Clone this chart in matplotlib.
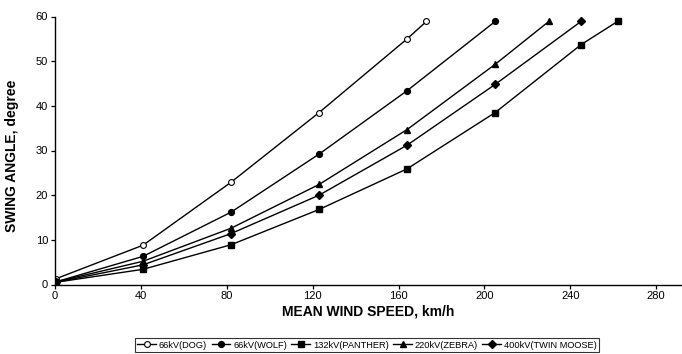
import matplotlib
matplotlib.use("Agg")
import matplotlib.pyplot as plt

plt.rcParams['font.family'] = ['Liberation Sans', 'DejaVu Sans']

# valeurs
x_dog = [0.5, 41, 82, 123, 164, 173]
y_dog = [1.3, 8.8, 22.9, 38.5, 55.0, 58.9]

x_wolf = [0.5, 41, 82, 123, 164, 205]
y_wolf = [0.6, 6.3, 16.2, 29.2, 43.4, 58.9]

x_panther = [0.5, 41, 82, 123, 164, 205, 245, 262]
y_panther = [0.5, 3.4, 8.9, 16.8, 25.9, 38.5, 53.7, 58.9]

x_zebra = [0.5, 41, 82, 123, 164, 205, 230]
y_zebra = [0.6, 5.2, 12.6, 22.4, 34.7, 49.3, 58.9]

x_moose = [0.5, 41, 82, 123, 164, 205, 245]
y_moose = [0.5, 4.4, 11.4, 20.0, 31.2, 44.8, 58.9]

labels = ['66kV(DOG)', '66kV(WOLF)', '132kV(PANTHER)', '220kV(ZEBRA)', '400kV(TWIN MOOSE)']
x_ticks = [0, 40, 80, 120, 160, 200, 240, 280]
y_ticks = [0, 10, 20, 30, 40, 50, 60]

fig = plt.figure(figsize=(6.82, 3.54), dpi=100)
ax = fig.add_axes([55 / 682, 1 - 284.5 / 354, 627 / 682, 268 / 354])

lw = 1.0
ax.plot(x_dog, y_dog, color='black', lw=lw, marker='o', ms=4.2,
        mfc='white', mec='black', mew=0.8, label=labels[0])
ax.plot(x_wolf, y_wolf, color='black', lw=lw, marker='o', ms=4.2,
        mfc='black', mec='black', label=labels[1])
ax.plot(x_panther, y_panther, color='black', lw=lw, marker='s', ms=4.0,
        mfc='black', mec='black', label=labels[2])
ax.plot(x_zebra, y_zebra, color='black', lw=lw, marker='^', ms=4.6,
        mfc='black', mec='black', label=labels[3])
ax.plot(x_moose, y_moose, color='black', lw=lw, marker='D', ms=3.6,
        mfc='black', mec='black', label=labels[4])

ax.set_xlim(0, 292)
ax.set_ylim(0, 60)
ax.set_xticks(x_ticks)
ax.set_yticks(y_ticks)
ax.tick_params(axis='both', direction='out', length=3, width=0.9,
               labelsize=8, colors='black', pad=2)
for s in ['top', 'right']:
    ax.spines[s].set_visible(False)
for s in ['left', 'bottom']:
    ax.spines[s].set_linewidth(1.0)
ax.patch.set_alpha(0)

fig.text(368 / 682, 1 - 311.5 / 354, 'MEAN WIND SPEED, km/h', ha='center', va='center',
         fontsize=10, fontweight='bold')
fig.text(12 / 682, 1 - 156 / 354, 'SWING ANGLE, degree', ha='center', va='center',
         rotation=90, fontsize=10, fontweight='bold')

leg = fig.legend(loc='center', bbox_to_anchor=(367 / 682, 1 - 345 / 354), ncol=5,
                 fontsize=6.7, frameon=True, fancybox=False, edgecolor='black',
                 handlelength=2.0, handletextpad=0.3, columnspacing=0.5,
                 borderpad=0.25, borderaxespad=0)
leg.get_frame().set_linewidth(0.8)

fig.savefig('out.png', dpi=100)
